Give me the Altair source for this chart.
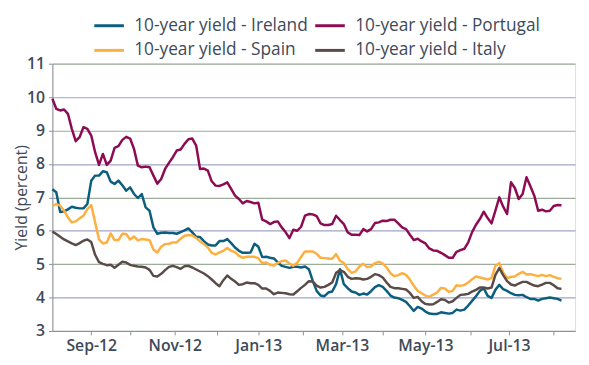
import numpy as np
import pandas as pd
import altair as alt

# Every second trading day from 6 Aug 2012 (132 observations)
dates = pd.bdate_range("2012-08-06", periods=132, freq="2B")

ireland = [
    7.24, 7.15, 6.56, 6.58, 6.64, 6.72, 6.69, 6.67, 6.67, 6.80,
    7.50, 7.65, 7.65, 7.78, 7.75, 7.47, 7.40, 7.50, 7.36, 7.20,
    7.30, 7.10, 6.98, 7.10, 6.70, 6.60, 6.10, 5.91, 5.94, 5.95,
    5.93, 5.93, 5.91, 5.96, 6.01, 6.07, 5.95, 5.82, 5.81, 5.69,
    5.59, 5.56, 5.56, 5.69, 5.69, 5.75, 5.63, 5.50, 5.40, 5.34,
    5.34, 5.35, 5.61, 5.52, 5.21, 5.22, 5.19, 5.17, 5.05, 4.95,
    4.92, 4.89, 4.92, 4.92, 4.90, 4.93, 4.85, 4.50, 4.20, 4.06,
    4.04, 4.15, 4.18, 4.40, 4.85, 4.40, 4.28, 4.18, 4.15, 4.08,
    4.12, 4.09, 4.19, 4.31, 4.37, 4.32, 4.20, 4.06, 4.00, 3.98,
    3.93, 3.87, 3.74, 3.60, 3.72, 3.67, 3.58, 3.52, 3.51, 3.51,
    3.56, 3.54, 3.52, 3.54, 3.64, 3.61, 3.64, 3.76, 3.90, 4.04,
    4.20, 4.28, 4.05, 3.99, 4.23, 4.38, 4.25, 4.20, 4.13, 4.08,
    4.07, 4.08, 4.01, 3.96, 3.96, 3.91, 3.96, 3.98, 4.00, 3.98,
    3.96, 3.91,
]

portugal = [
    9.95, 9.65, 9.60, 9.63, 9.50, 9.05, 8.68, 8.80, 9.10, 9.05,
    8.85, 8.35, 7.97, 8.30, 7.97, 8.10, 8.48, 8.53, 8.72, 8.81,
    8.76, 8.45, 7.95, 7.90, 7.92, 7.90, 7.65, 7.41, 7.55, 7.85,
    8.03, 8.20, 8.40, 8.43, 8.60, 8.74, 8.76, 8.55, 7.85, 7.86,
    7.80, 7.48, 7.35, 7.34, 7.39, 7.45, 7.25, 7.05, 6.95, 6.82,
    6.89, 6.86, 6.82, 6.84, 6.33, 6.28, 6.20, 6.26, 6.28, 6.10,
    5.96, 5.78, 6.03, 6.00, 6.12, 6.45, 6.50, 6.49, 6.44, 6.22,
    6.17, 6.17, 6.20, 6.45, 6.32, 6.20, 5.95, 5.88, 5.88, 5.87,
    6.05, 5.98, 6.05, 6.23, 6.25, 6.30, 6.29, 6.33, 6.33, 6.22,
    6.10, 6.05, 5.88, 5.72, 5.76, 5.68, 5.62, 5.47, 5.41, 5.40,
    5.34, 5.27, 5.19, 5.19, 5.37, 5.42, 5.46, 5.65, 5.96, 6.18,
    6.35, 6.57, 6.38, 6.22, 6.60, 7.00, 6.72, 6.50, 7.45, 7.28,
    6.95, 7.10, 7.60, 7.33, 7.05, 6.60, 6.63, 6.58, 6.60, 6.74,
    6.77, 6.76,
]

spain = [
    6.74, 6.80, 6.75, 6.60, 6.40, 6.25, 6.28, 6.37, 6.45, 6.65,
    6.77, 6.25, 5.74, 5.62, 5.65, 5.92, 5.72, 5.72, 5.91, 5.90,
    5.74, 5.83, 5.71, 5.75, 5.74, 5.72, 5.44, 5.35, 5.52, 5.60,
    5.61, 5.65, 5.65, 5.76, 5.85, 5.87, 5.86, 5.78, 5.68, 5.60,
    5.50, 5.34, 5.29, 5.35, 5.40, 5.48, 5.40, 5.36, 5.25, 5.19,
    5.22, 5.22, 5.22, 5.18, 5.03, 5.05, 4.98, 4.96, 5.04, 5.09,
    5.11, 5.02, 4.95, 5.04, 5.22, 5.38, 5.38, 5.38, 5.31, 5.19,
    5.18, 5.17, 5.16, 5.30, 5.10, 5.03, 4.85, 4.74, 4.78, 4.93,
    5.01, 4.91, 4.93, 5.03, 5.07, 5.02, 4.90, 4.73, 4.64, 4.67,
    4.73, 4.68, 4.54, 4.35, 4.20, 4.13, 4.06, 4.02, 4.09, 4.15,
    4.29, 4.27, 4.17, 4.20, 4.37, 4.35, 4.38, 4.45, 4.55, 4.63,
    4.60, 4.57, 4.54, 4.58, 4.95, 5.03, 4.75, 4.58, 4.62, 4.63,
    4.71, 4.77, 4.69, 4.70, 4.67, 4.64, 4.68, 4.64, 4.67, 4.62,
    4.58, 4.56,
]

italy = [
    5.98, 5.90, 5.82, 5.74, 5.68, 5.62, 5.57, 5.63, 5.70, 5.74,
    5.66, 5.28, 5.06, 5.01, 4.97, 4.98, 4.89, 4.98, 5.07, 5.05,
    4.98, 4.95, 4.93, 4.92, 4.90, 4.83, 4.65, 4.63, 4.71, 4.82,
    4.92, 4.95, 4.91, 4.86, 4.94, 4.95, 4.90, 4.84, 4.78, 4.72,
    4.64, 4.54, 4.43, 4.34, 4.52, 4.66, 4.56, 4.48, 4.38, 4.40,
    4.45, 4.43, 4.43, 4.38, 4.27, 4.27, 4.20, 4.10, 4.15, 4.14,
    4.13, 4.10, 4.09, 4.19, 4.29, 4.38, 4.49, 4.48, 4.36, 4.30,
    4.32, 4.38, 4.45, 4.74, 4.82, 4.77, 4.62, 4.56, 4.58, 4.57,
    4.54, 4.56, 4.62, 4.70, 4.67, 4.60, 4.45, 4.32, 4.28, 4.28,
    4.26, 4.24, 4.14, 3.99, 4.02, 3.89, 3.81, 3.79, 3.80, 3.87,
    3.95, 3.93, 3.85, 3.89, 3.99, 4.08, 4.09, 4.11, 4.18, 4.23,
    4.30, 4.30, 4.27, 4.30, 4.68, 4.88, 4.67, 4.49, 4.39, 4.36,
    4.42, 4.47, 4.47, 4.41, 4.36, 4.34, 4.39, 4.44, 4.44, 4.37,
    4.28, 4.26,
]

series_names = [
    "10-year yield - Ireland",
    "10-year yield - Portugal",
    "10-year yield - Spain",
    "10-year yield - Italy",
]
series_colors = ["#0b5e7e", "#8c0b52", "#fdaf3f", "#5a4b48"]

month_starts = ["2012-09-01", "2012-10-01", "2012-11-01", "2012-12-01",
                "2013-01-01", "2013-02-01", "2013-03-01", "2013-04-01",
                "2013-05-01", "2013-06-01", "2013-07-01", "2013-08-01"]
month_labels = ["Sep-12", "", "Nov-12", "", "Jan-13", "", "Mar-13", "",
                "May-13", "", "Jul-13", ""]

# x position = trading-day count since 1 Aug 2012 (category-style axis)
origin = np.datetime64("2012-08-01")
day_idx = np.busday_count(origin, dates.values.astype("datetime64[D]"))
tick_days = [int(np.busday_count(origin, np.datetime64(m))) for m in month_starts]

rows = []
for name, vals in zip(series_names, [ireland, portugal, spain, italy]):
    for d, di, v in zip(dates, day_idx, vals):
        rows.append({"date": d.strftime("%Y-%m-%d"), "day": int(di),
                     "series": name, "value": v})
df = pd.DataFrame(rows)

label_expr = ("[" + ",".join("'%s'" % s for s in month_labels) + "][indexof(["
              + ",".join(str(t) for t in tick_days) + "], datum.value)]")

FONT = "Open Sans"
TXT = "#3e4a59"

chart = alt.Chart(df).mark_line(strokeWidth=2.5, strokeJoin="round").encode(
    x=alt.X("day:Q",
            scale=alt.Scale(domain=[3, 272], nice=False, zero=False),
            axis=alt.Axis(values=tick_days, labelExpr=label_expr, title=None,
                          grid=False, tickSize=4, labelPadding=3,
                          labelFontSize=16, labelColor=TXT, labelFont=FONT,
                          labelFontWeight=600,
                          domainColor="#8d9199", tickColor="#8d9199",
                          labelFlush=False, labelOverlap=False)),
    y=alt.Y("value:Q",
            scale=alt.Scale(domain=[3, 11], nice=False, zero=False),
            axis=alt.Axis(values=list(range(3, 12)), title="Yield (percent)",
                          tickSize=4, labelPadding=4, labelFontSize=16,
                          labelColor=TXT, labelFont=FONT, labelFontWeight=600,
                          titleFont=FONT, titleFontSize=16, titleColor=TXT,
                          titleFontWeight="normal", titlePadding=-3,
                          domainColor="#8d9199", tickColor="#8d9199",
                          gridColor={"condition": {"test": "datum.value % 2 == 0",
                                                   "value": "#a2a3c4"},
                                     "value": "#9cae9a"},
                          gridWidth=1.2)),
    color=alt.Color("series:N",
                    scale=alt.Scale(domain=series_names, range=series_colors),
                    sort=series_names,
                    legend=alt.Legend(title=None, orient="none", legendX=41,
                                      legendY=-55, columns=2,
                                      direction="horizontal",
                                      symbolType="stroke",
                                      symbolStrokeWidth=3, symbolSize=900,
                                      labelFontSize=17.5, labelFont=FONT,
                                      labelColor=TXT,
                                      labelLimit=400,
                                      columnPadding=1, rowPadding=-7,
                                      labelOffset=9, padding=0)),
    detail="series:N",
).properties(
    width=530, height=271,
    autosize=alt.AutoSizeParams(type="none"),
    padding={"left": 45, "top": 54, "right": 6, "bottom": 30},
).configure_view(stroke=None).configure(background="white")

chart.save("out.html", embed_options={"renderer": "svg", "actions": False})
